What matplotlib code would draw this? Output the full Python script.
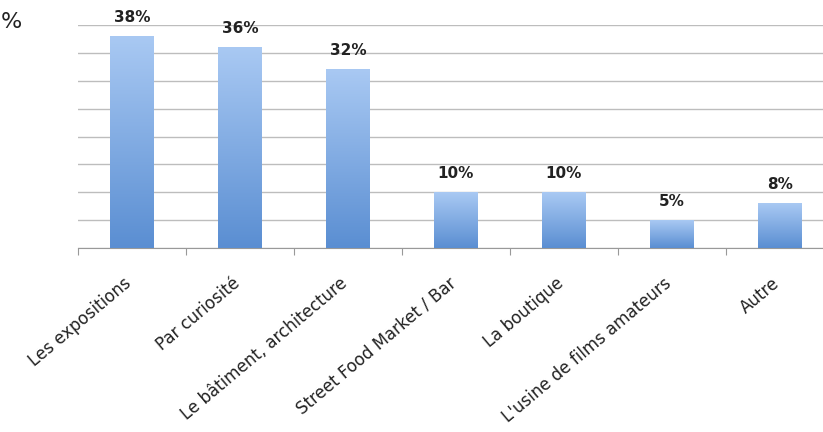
import numpy as np
import matplotlib
matplotlib.use("Agg")
import matplotlib.pyplot as plt
from matplotlib.colors import LinearSegmentedColormap

categories = [
    "Les expositions",
    "Par curiosité",
    "Le bâtiment, architecture",
    "Street Food Market / Bar",
    "La boutique",
    "L'usine de films amateurs",
    "Autre",
]
values = [38, 36, 32, 10, 10, 5, 8]
value_labels = ["38%", "36%", "32%", "10%", "10%", "5%", "8%"]

plt.rcParams["font.family"] = ["DejaVu Sans"]

fig = plt.figure(figsize=(8.23, 4.32), dpi=100)
ax = fig.add_axes([78 / 823, 184 / 432, 756 / 823, 223 / 432])

x = np.arange(len(categories))
bars = ax.bar(x, values, width=0.4, color="none", zorder=3)

# vertical gradient inside each bar
grad = np.linspace(0, 1, 256).reshape(-1, 1)
cmap = LinearSegmentedColormap.from_list("blu", ["#5a8ed2", "#a9c9f3"])
for b in bars:
    ax.imshow(grad, cmap=cmap, origin="lower", aspect="auto", zorder=3,
              extent=[b.get_x(), b.get_x() + b.get_width(), 0, b.get_height()])

for xi, v, lab in zip(x, values, value_labels):
    ax.annotate(lab, (xi, v), xytext=(0, 8), textcoords="offset points",
                ha="center", va="bottom", fontsize=11, fontweight="bold", color="#222222")

ax.set_xlim(-0.5, len(categories) - 0.5)
ax.set_ylim(0, 40)
ax.set_yticks(np.arange(0, 45, 5))
ax.yaxis.grid(True, color="#bdbdbd", linewidth=1.0, zorder=0)
ax.tick_params(axis="y", length=0, labelleft=False)

ax.set_xticks(np.arange(-0.5, len(categories), 1), minor=False)
ax.set_xticklabels([])
ax.tick_params(axis="x", length=5, color="#999999", direction="out")
ax.set_xticks(x + 0.03, minor=True)
ax.set_xticklabels(categories, minor=True, rotation=40, ha="right",
                   fontsize=12, color="#222222")
ax.tick_params(axis="x", which="minor", length=0, pad=19)

for s in ["top", "right", "left"]:
    ax.spines[s].set_visible(False)
ax.spines["bottom"].set_color("#999999")
ax.set_axisbelow(True)

fig.text(1 / 823, 1 - 22 / 432, "%", fontsize=16, va="center", ha="left", color="#222222")

fig.savefig("out.png", dpi=100)
